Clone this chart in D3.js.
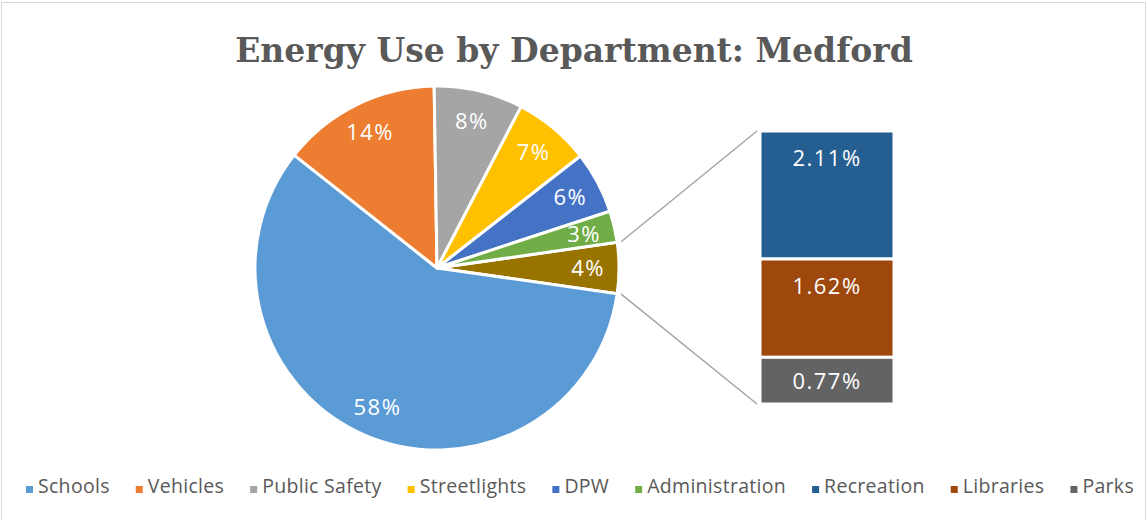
<!DOCTYPE html>
<html>
<head>
<meta charset="utf-8">
<script src="https://cdn.jsdelivr.net/npm/d3@7"></script>
<style>
  body { margin: 0; background: #fff; }
  svg { display: block; }
</style>
</head>
<body>
<script>
// pie slices (the last one is the "other" group split out in the bar)
var pieNames = ["Schools", "Vehicles", "Public Safety", "Streetlights", "DPW", "Administration"];
var pieValues = [58.4, 14.1, 7.9, 6.8, 5.5, 2.8];
var pieLabels = ["58%", "14%", "8%", "7%", "6%", "3%", "4%"];
var pieColors = ["#5B9BD5", "#ED7D31", "#A5A5A5", "#FFC000", "#4472C4", "#70AD47"];
var otherColor = "#997300";

// bar of the small slices
var barNames = ["Recreation", "Libraries", "Parks"];
var barValues = [2.11, 1.62, 0.77];
var barLabels = ["2.11%", "1.62%", "0.77%"];
var barColors = ["#255E91", "#9E480E", "#636363"];

var svgWidth = 1148, svgHeight = 520;
var font = "'Open Sans', 'Noto Sans', sans-serif";

var svg = d3.select("body").append("svg")
  .attr("width", svgWidth)
  .attr("height", svgHeight);

// chart frame
svg.append("rect")
  .attr("x", 1.5).attr("y", 2.5)
  .attr("width", 1144).attr("height", 540)
  .attr("fill", "#fff")
  .attr("stroke", "#d9d9d9")
  .attr("stroke-width", 1);

// title
svg.append("text")
  .attr("x", 574)
  .attr("y", 62)
  .attr("text-anchor", "middle")
  .attr("font-family", "'DejaVu Serif', serif")
  .attr("font-weight", "bold")
  .attr("font-size", "33px")
  .attr("fill", "#595959")
  .text("Energy Use by Department: Medford");

// pie
var cx = 437, cy = 268, radius = 182;
var otherTotal = d3.sum(barValues);
var total = d3.sum(pieValues) + otherTotal;

// other slice is centred on 3 o'clock, the rest run clockwise after it
var otherSpan = otherTotal / total * 2 * Math.PI;
var startAngle = Math.PI / 2 + otherSpan / 2;

var slices = pieNames.map(function(n, i) {
  return { name: n, value: pieValues[i], color: pieColors[i], label: pieLabels[i] };
});
slices.unshift({ name: "Other", value: otherTotal, color: otherColor, label: pieLabels[6] });

var pie = d3.pie()
  .sort(null)
  .value(d => d.value)
  .startAngle(startAngle - otherSpan)
  .endAngle(startAngle - otherSpan + 2 * Math.PI);

var arcs = pie(slices);

var arc = d3.arc().innerRadius(0).outerRadius(radius);
var labelArc = d3.arc().innerRadius(radius * 0.83).outerRadius(radius * 0.83);

var pieGroup = svg.append("g")
  .attr("transform", `translate(${cx}, ${cy})`);

pieGroup.selectAll("path")
  .data(arcs)
  .enter()
  .append("path")
  .attr("d", arc)
  .attr("fill", d => d.data.color)
  .attr("stroke", "#fff")
  .attr("stroke-width", 3)
  .attr("stroke-linejoin", "round");

pieGroup.selectAll("text")
  .data(arcs)
  .enter()
  .append("text")
  .attr("transform", d => `translate(${labelArc.centroid(d)})`)
  .attr("text-anchor", "middle")
  .attr("dy", "0.36em")
  .attr("font-family", font)
  .attr("font-size", "22px")
  .attr("letter-spacing", "1.5px")
  .attr("fill", "#fff")
  .text(d => d.data.label);

// bar of pie
var barX = 760, barW = 134, barTop = 131, barBottom = 404;
var yScale = d3.scaleLinear()
  .domain([0, otherTotal])
  .range([barTop, barBottom]);

var barData = barNames.map(function(n, i) {
  var y0 = d3.sum(barValues.slice(0, i));
  return { name: n, y0: y0, y1: y0 + barValues[i], color: barColors[i], label: barLabels[i] };
});

var barGroup = svg.append("g");

barGroup.selectAll("rect")
  .data(barData)
  .enter()
  .append("rect")
  .attr("x", barX)
  .attr("y", d => yScale(d.y0))
  .attr("width", barW)
  .attr("height", d => yScale(d.y1) - yScale(d.y0))
  .attr("fill", d => d.color)
  .attr("stroke", "#fff")
  .attr("stroke-width", 3);

barGroup.selectAll("text")
  .data(barData)
  .enter()
  .append("text")
  .attr("x", barX + barW / 2)
  .attr("y", function(d) {
    var h = yScale(d.y1) - yScale(d.y0);
    return h > 80 ? yScale(d.y0) + 27 : (yScale(d.y0) + yScale(d.y1)) / 2;
  })
  .attr("dy", "0.36em")
  .attr("text-anchor", "middle")
  .attr("font-family", font)
  .attr("font-size", "22px")
  .attr("letter-spacing", "1.5px")
  .attr("fill", "#fff")
  .text(d => d.label);

// connector lines from the other slice to the bar
var otherArc = arcs[0];
function edgePoint(a, r) {
  return [cx + r * Math.sin(a), cy - r * Math.cos(a)];
}
var pTop = edgePoint(otherArc.startAngle, radius + 4);
var pBot = edgePoint(otherArc.endAngle, radius + 4);

svg.append("line")
  .attr("x1", pTop[0]).attr("y1", pTop[1])
  .attr("x2", barX - 3).attr("y2", yScale(0))
  .attr("stroke", "#a5a5a5").attr("stroke-width", 1.5);

svg.append("line")
  .attr("x1", pBot[0]).attr("y1", pBot[1])
  .attr("x2", barX - 3).attr("y2", yScale(otherTotal))
  .attr("stroke", "#a5a5a5").attr("stroke-width", 1.5);

// legend
var legendNames = pieNames.concat(barNames);
var legendColors = pieColors.concat(barColors);
var legend = svg.append("g");

var items = legend.selectAll("g")
  .data(legendNames)
  .enter()
  .append("g");

items.append("rect")
  .attr("width", 7).attr("height", 7)
  .attr("y", -7)
  .attr("fill", (d, i) => legendColors[i]);

items.append("text")
  .attr("x", 12)
  .attr("font-family", font)
  .attr("font-size", "19.5px")
  .attr("letter-spacing", "0.3px")
  .attr("fill", "#595959")
  .text(d => d);

// place items one after the other, centred
var gap = 26, xPos = 0, widths = [];
items.each(function() {
  widths.push(12 + d3.select(this).select("text").node().getComputedTextLength());
});
var totalW = d3.sum(widths) + gap * (widths.length - 1);
xPos = 580 - totalW / 2;
items.attr("transform", function(d, i) {
  var t = `translate(${xPos}, 493)`;
  xPos += widths[i] + gap;
  return t;
});
</script>
</body>
</html>
